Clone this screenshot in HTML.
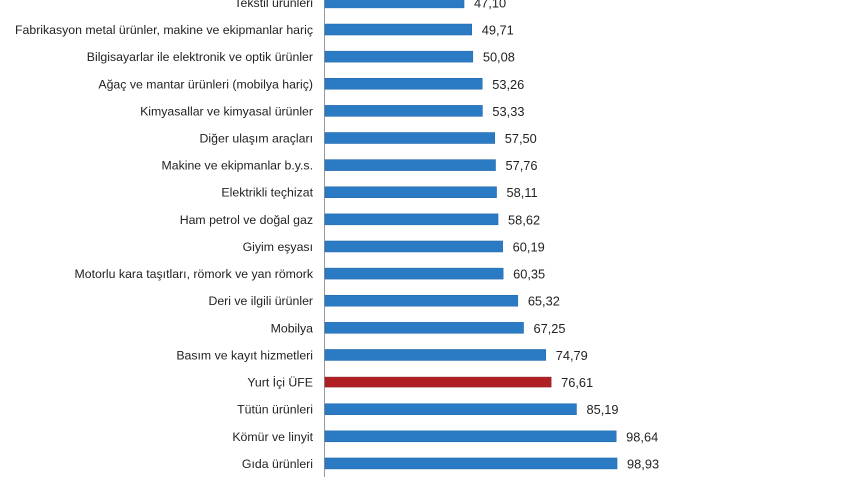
<!DOCTYPE html>
<html><head><meta charset="utf-8"><style>
html,body{margin:0;padding:0;background:#fff;width:847px;height:477px;overflow:hidden}
text{font-family:"Liberation Sans",sans-serif;font-size:12.3px;fill:#222}
text.v{font-size:12.8px}
</style></head><body>
<svg width="847" height="477" xmlns="http://www.w3.org/2000/svg">
<line x1="324.5" y1="0" x2="324.5" y2="477" stroke="#999" stroke-width="1"/>
<g id="bars"></g>
</svg>
<script>
const d=[["Tekstil ürünleri",47.10],["Fabrikasyon metal ürünler, makine ve ekipmanlar hariç",49.71],["Bilgisayarlar ile elektronik ve optik ürünler",50.08],["Ağaç ve mantar ürünleri (mobilya hariç)",53.26],["Kimyasallar ve kimyasal ürünler",53.33],["Diğer ulaşım araçları",57.50],["Makine ve ekipmanlar b.y.s.",57.76],["Elektrikli teçhizat",58.11],["Ham petrol ve doğal gaz",58.62],["Giyim eşyası",60.19],["Motorlu kara taşıtları, römork ve yan römork",60.35],["Deri ve ilgili ürünler",65.32],["Mobilya",67.25],["Basım ve kayıt hizmetleri",74.79],["Yurt İçi ÜFE",76.61],["Tütün ürünleri",85.19],["Kömür ve linyit",98.64],["Gıda ürünleri",98.93]];
let s="";
d.forEach((r,i)=>{const cy=2.4+27.12*i;const w=r[1]*2.952;const red=r[0]=="Yurt İçi ÜFE";
const h=red?10:11;
s+=`<rect x="325" y="${cy-h/2}" width="${w}" height="${h}" fill="${red?'#b01f24':'#2b7bc4'}" stroke="${red?'#8a1a1d':'#1f64a8'}" stroke-width="0.5"/>`;
s+=`<text x="313" y="${cy+4.5}" text-anchor="end">${r[0]}</text>`;
s+=`<text class="v" x="${325+w+10}" y="${cy+5}">${r[1].toFixed(2).replace('.',',')}</text>`;});
document.getElementById("bars").innerHTML=s;
</script>
</body></html>
